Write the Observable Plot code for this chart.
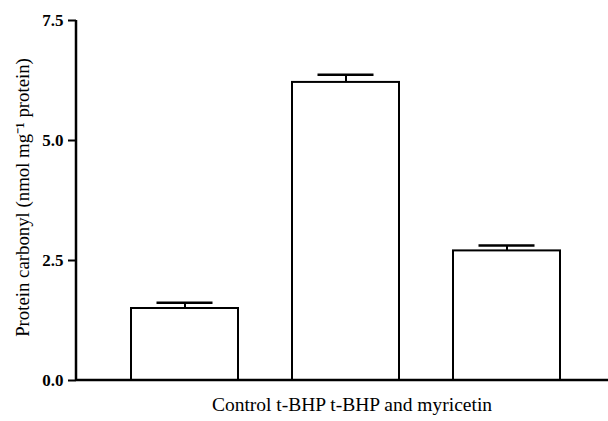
<!DOCTYPE html>
<html>
<head>
<meta charset="utf-8">
<script src="https://cdn.jsdelivr.net/npm/d3@7"></script>
<script src="https://cdn.jsdelivr.net/npm/@observablehq/plot@0.6"></script>
<style>
  html, body { margin: 0; padding: 0; background: #fff; }
</style>
</head>
<body>
<div id="chart"></div>
<script>
const categories = ["Control", "t-BHP", "t-BHP and myricetin"];
const means = [1.50, 6.21, 2.70];
const errors = [0.12, 0.16, 0.11];
const yTicks = [0, 2.5, 5.0, 7.5];
const yLabel = "Protein carbonyl (nmol mg\u207B\u00B9 protein)";
const xLabel = "Control t-BHP t-BHP and myricetin";

const data = categories.map((c, i) => ({cat: c, mean: means[i], hi: means[i] + errors[i]}));

const W = 608, H = 421;
const mL = 76, mT = 20, mB = 41, mR = 0;

const axisLines = (index, scales, values, dimensions) => {
  const g = d3.create("svg:g");
  const y0 = scales.y(0), y1 = scales.y(yTicks[yTicks.length - 1]);
  g.append("line")
    .attr("x1", dimensions.marginLeft).attr("x2", dimensions.marginLeft)
    .attr("y1", y0 + 1).attr("y2", y1)
    .attr("stroke", "#000").attr("stroke-width", 2.5);
  g.append("line")
    .attr("x1", dimensions.marginLeft).attr("x2", dimensions.width)
    .attr("y1", y0).attr("y2", y0)
    .attr("stroke", "#000").attr("stroke-width", 2.5);
  return g.node();
};

const chart = Plot.plot({
  width: W,
  height: H,
  marginLeft: mL,
  marginRight: mR,
  marginTop: mT,
  marginBottom: mB,
  style: "font-family: 'Liberation Serif', 'Times New Roman', serif; color: #000; background: #fff;",
  x: {type: "band", domain: categories, range: [mL, 614.6], padding: 0.335, axis: null},
  y: {domain: [0, 7.5], range: [H - mB, mT], axis: null},
  marks: [
    Plot.barY(data, {x: "cat", y: "mean", fill: "#fff", stroke: "#000", strokeWidth: 2}),
    Plot.ruleX(data, {x: "cat", y1: "mean", y2: "hi", stroke: "#000", strokeWidth: 2}),
    Plot.tickY(data, {x: "cat", y: "hi", stroke: "#000", strokeWidth: 2.5, insetLeft: 25.5, insetRight: 25.5}),
    Plot.axisY({ticks: yTicks, tickFormat: d3.format(".1f"), tickSize: 8, tickPadding: 5, tickStrokeWidth: 2,
      fontSize: 17, fontWeight: "bold", label: null, strokeWidth: 2}),
    axisLines,
    Plot.text([yLabel], {frameAnchor: "left", textAnchor: "middle", rotate: -90, dx: -54, dy: -3, fontSize: 18.8, fill: "#000"}),
    Plot.text([xLabel], {frameAnchor: "bottom", textAnchor: "middle", dy: 30, dx: 9.5, fontSize: 19.5, fill: "#000"})
  ]
});
document.getElementById("chart").appendChild(chart);
</script>
</body>
</html>
